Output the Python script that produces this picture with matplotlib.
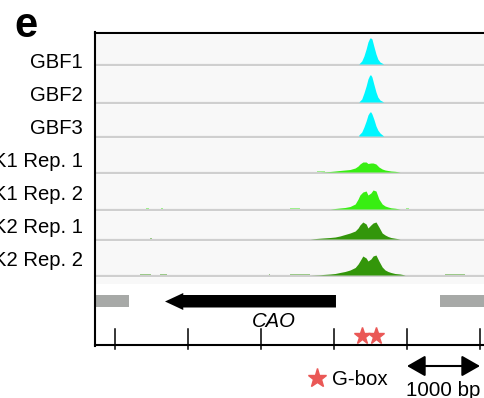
import matplotlib
matplotlib.use("Agg")
import matplotlib.pyplot as plt

plt.rcParams["font.family"] = ["Liberation Sans", "DejaVu Sans"]

# ---------- datos ----------
track_names = ["GBF1", "GBF2", "GBF3",
               "GLK1 Rep. 1", "GLK1 Rep. 2", "GLK2 Rep. 1", "GLK2 Rep. 2"]

# picos GBF (posicion en bp, altura en px)
gbf_pos = [3340, 3380, 3410, 3440, 3465, 3490, 3505, 3520, 3545, 3575, 3600, 3630, 3680]
gbf1 = [0, 3, 8, 15, 22, 26, 26, 25, 18, 10, 5, 2, 0]
gbf2 = [0, 3, 9, 16, 23, 27, 27, 25, 18, 10, 5, 2, 0]
gbf3 = [1, 4, 9, 15, 21, 24, 24, 22, 17, 10, 6, 3, 0]

# senal GLK
glk_pos = [2670, 2810, 2945, 3015, 3080, 3150, 3220, 3290, 3330, 3355, 3395, 3440,
           3465, 3505, 3535, 3575, 3615, 3660, 3700, 3740, 3780, 3835, 3905, 3975]
glk1_r1 = [0, 0, 0.5, 1, 1.5, 2, 2.5, 4, 6, 8, 10, 10,
           8.5, 9, 9, 8, 5, 3, 2, 1.5, 1, 0.7, 0, 0]
glk1_r2 = [0, 0, 0, 0.5, 1, 1.5, 2.5, 5, 10, 14, 17, 18,
           14, 16, 19, 18, 10, 5, 3, 2, 1.2, 0.8, 0, 0]
glk2_r1 = [0, 0.8, 1.5, 2, 3, 4.5, 6, 8, 11, 14, 17, 15,
           11, 14, 16, 17, 12, 6, 4, 2.5, 1.5, 0.8, 0, 0]
glk2_r2 = [0, 0.3, 1, 1.5, 2.5, 3.5, 5, 7.5, 11, 14, 19, 17,
           14, 16, 19, 20, 14, 8, 5, 3.5, 2.5, 1.5, 1, 0]

# lecturas sueltas: (pista, inicio bp, fin bp, altura px)
specks = [(3, 2770, 2880, 1.2),
          (4, 420, 470, 1.0), (4, 630, 660, 1.0), (4, 2400, 2530, 1.0), (4, 3990, 4030, 1.0),
          (5, 480, 510, 1.0),
          (6, 340, 500, 1.2), (6, 610, 710, 1.2), (6, 2110, 2130, 0.8),
          (6, 2400, 2670, 1.0), (6, 4520, 4800, 1.0)]

gene_start, gene_end = 685, 3027     # CAO, hebra -
left_box = (-290, 190)
right_box = (4450, 5200)
gbox_pos = [3384, 3575]
tick_bp = [0, 1000, 2000, 3000, 4000, 5000]

# ---------- colores ----------
C_GBF = "#00f6ff"
C_GLK1 = "#38ee12"
C_GLK2 = "#33960a"
C_BG = "#f8f8f8"
C_BASE = "#cfcfcf"
C_GREY = "#a7a9a7"
C_STAR = "#ea5856"

# ---------- figura (eje en px verticales, bp horizontales) ----------
PX_PER_BP = 0.073
X0 = 115
fig = plt.figure(figsize=(4.85, 3.98), dpi=100)
ax = fig.add_axes([0, 0, 1, 1])
ax.set_xlim(-X0 / PX_PER_BP, (485 - X0) / PX_PER_BP)
ax.set_ylim(398, 0)
ax.axis("off")

def px(x):
    return (x - X0) / PX_PER_BP

baselines = [65, 103, 137, 173, 210, 240, 276]
xl, xr = px(95), px(490)

# fondos de pista
top = 35
for b in baselines:
    ax.fill_between([xl, xr], top, b, color=C_BG, lw=0, zorder=1)
    ax.plot([xl, xr], [b, b], color=C_BASE, lw=1.6, zorder=2, solid_capstyle="butt")
    top = b + 2
ax.fill_between([xl, xr], baselines[-1] + 2, 284, color=C_BG, lw=0, zorder=1)

tracks = [(gbf_pos, gbf1, C_GBF), (gbf_pos, gbf2, C_GBF), (gbf_pos, gbf3, C_GBF),
          (glk_pos, glk1_r1, C_GLK1), (glk_pos, glk1_r2, C_GLK1),
          (glk_pos, glk2_r1, C_GLK2), (glk_pos, glk2_r2, C_GLK2)]
for b, (pos, h, col) in zip(baselines, tracks):
    ax.fill_between(pos, b - 1, [b - 1 - v for v in h], color=col, lw=0, zorder=3)
for i, s, e, h in specks:
    col = tracks[i][2]
    b = baselines[i]
    ax.fill_between([s, e], b - 1, b - 1 - h, color=col, lw=0, zorder=3, alpha=0.45)

# etiquetas (recortadas por el borde izquierdo, como en el original)
for i, name in enumerate(track_names):
    ax.text(px(83), 68 + 33 * i, name, ha="right", va="baseline", fontsize=14.6)

ax.text(px(14), 37, "e", fontsize=30, fontweight="bold", ha="left", va="baseline")

# marco
ax.plot([px(95), px(490)], [33, 33], color="black", lw=1.5, zorder=5)
ax.plot([px(95), px(95)], [32.3, 345.7], color="black", lw=1.5, zorder=5)
ax.plot([px(95), px(490)], [345, 345], color="black", lw=1.5, zorder=5)
for t in tick_bp:
    ax.plot([t, t], [329, 349], color="black", lw=1.1, zorder=5)

# gen
ax.fill_between(left_box, 295, 307, color=C_GREY, lw=0, zorder=4)
ax.fill_between(right_box, 295, 307, color=C_GREY, lw=0, zorder=4)
head_len = 250
ax.fill([gene_end, gene_start + head_len, gene_start + head_len, gene_start,
         gene_start + head_len, gene_start + head_len, gene_end],
        [295, 295, 293, 301.5, 310, 307.5, 307.5], color="black", lw=0, zorder=4)
ax.text((gene_start + gene_end) / 2 + 320, 327, "CAO", style="italic",
        ha="center", va="baseline", fontsize=14.6)

ax.plot(gbox_pos, [336, 336], ls="none", marker="*", ms=12.5, color=C_STAR, zorder=5)

# leyenda / escala
ax.plot([px(317)], [378], marker="*", ms=14, color=C_STAR)
ax.text(px(332), 385, "G-box", ha="left", va="baseline", fontsize=14.8)
ax.annotate("", xy=(tick_bp[-1], 366), xytext=(tick_bp[-2], 366),
            arrowprops=dict(arrowstyle="<|-|>,head_length=0.7,head_width=0.4",
                            color="black", lw=1.5, mutation_scale=16,
                            shrinkA=0, shrinkB=0))
ax.text((tick_bp[-1] + tick_bp[-2]) / 2, 396, "1000 bp", ha="center",
        va="baseline", fontsize=14.8)

fig.savefig("out.png", dpi=100)
